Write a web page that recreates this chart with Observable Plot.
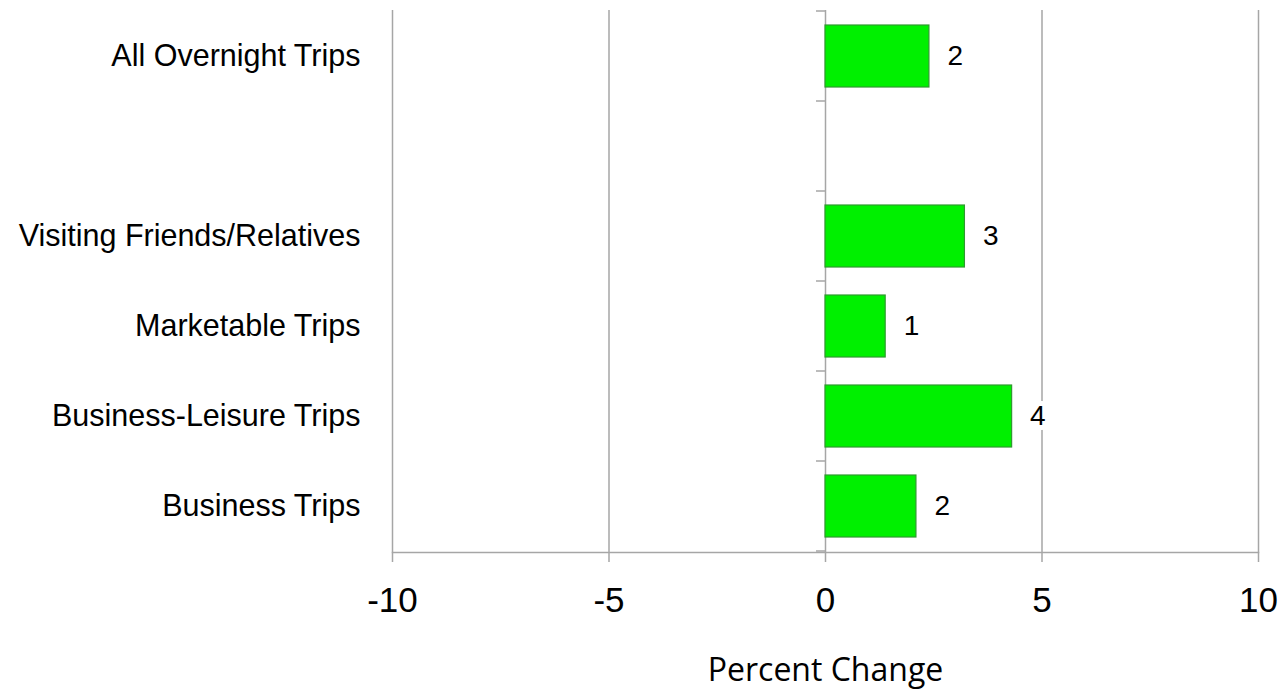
<!DOCTYPE html>
<html>
<head>
<meta charset="utf-8">
<script src="https://cdn.jsdelivr.net/npm/d3@7"></script>
<script src="https://cdn.jsdelivr.net/npm/@observablehq/plot@0.6"></script>
<style>
  body { margin: 0; background: #fff; }
  #chart svg { display: block; }
</style>
</head>
<body>
<div id="chart"></div>
<script>
// Category slots, top to bottom (" " is an empty spacer row)
const categories = ["All Overnight Trips", " ", "Visiting Friends/Relatives", "Marketable Trips", "Business-Leisure Trips", "Business Trips"];
const tripTypes = ["All Overnight Trips", "Visiting Friends/Relatives", "Marketable Trips", "Business-Leisure Trips", "Business Trips"];
const percentChange = [2.4, 3.22, 1.39, 4.31, 2.1];
const xTicks = [-10, -5, 0, 5, 10];
const gridValues = [-10, -5, 5, 10];

const data = tripTypes.map((type, i) => ({type, value: percentChange[i]}));
const gray = "#a6a6a6";

// Small tick marks on the zero line at the boundaries between category slots
function boundaryTicks(index, scales) {
  const x = scales.x, y = scales.y;
  const x0 = x(0);
  const step = y.step();
  const top = y(categories[0]) - (step - y.bandwidth()) / 2;
  const g = d3.create("svg:g").attr("stroke", gray).attr("stroke-width", 1.5);
  for (let k = 0; k <= categories.length; ++k) {
    const yy = top + k * step;
    g.append("line").attr("x1", x0 - 9).attr("x2", x0).attr("y1", yy).attr("y2", yy);
  }
  return g.node();
}

const chart = Plot.plot({
  width: 1284,
  height: 693,
  marginLeft: 392,
  marginRight: 26,
  marginTop: 10,
  marginBottom: 141,
  style: {fontFamily: "'Liberation Sans', Arial, sans-serif", background: "white", color: "black"},
  x: {domain: [-10, 10]},
  y: {domain: categories, paddingInner: 0.31, paddingOuter: 0.155},
  marks: [
    Plot.ruleX(gridValues, {stroke: gray, strokeWidth: 1.5}),
    Plot.ruleX([0], {stroke: gray, strokeWidth: 1.5}),
    Plot.frame({anchor: "bottom", stroke: gray, strokeWidth: 1.5}),
    boundaryTicks,
    Plot.axisX({
      ticks: xTicks, tickSize: 10, tickPadding: 25, label: null,
      stroke: gray, strokeWidth: 1.5, fill: "black",
      fontSize: 35, fontFamily: "'Liberation Sans', Arial, sans-serif",
      tickFormat: d => String(d)
    }),
    Plot.axisY({
      tickSize: 0, tickPadding: 32, label: null, fill: "black",
      fontSize: 30.5, fontFamily: "'Liberation Sans', Arial, sans-serif"
    }),
    Plot.barX(data, {x: "value", y: "type", fill: "#00f000", stroke: "#2f9a2f", strokeWidth: 1.2}),
    Plot.text(data, {
      x: "value", y: "type", text: d => String(Math.round(d.value)),
      textAnchor: "start", dx: 18, fontSize: 28, fill: "black",
      stroke: "white", strokeWidth: 10
    }),
    Plot.text(["Percent Change"], {
      frameAnchor: "bottom", dy: 128, fontSize: 32, fill: "black",
      fontFamily: "'Open Sans', sans-serif"
    })
  ]
});

document.getElementById("chart").appendChild(chart);
</script>
</body>
</html>
